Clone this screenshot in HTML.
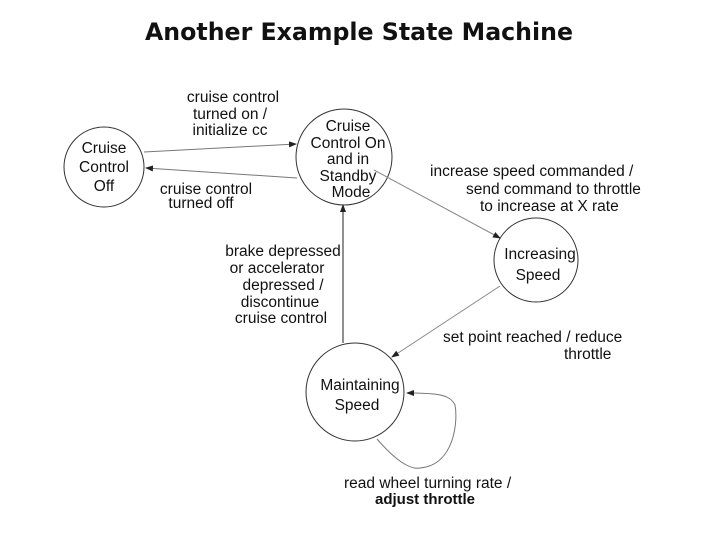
<!DOCTYPE html>
<html><head><style>
body{margin:0;background:#fff;}
svg text{font-family:"Liberation Sans",Arial,sans-serif;fill:#111;}
</style></head><body>
<svg width="720" height="540" viewBox="0 0 720 540" xmlns="http://www.w3.org/2000/svg">
<defs>
<marker id="a" markerWidth="8" markerHeight="6" refX="7" refY="3" orient="auto" markerUnits="userSpaceOnUse">
<path d="M0,0 L8,3 L0,6 z" fill="#222"/></marker>
</defs>
<text x="359" y="40" text-anchor="middle" style="font-family:'DejaVu Sans',sans-serif;font-weight:bold;font-size:24px" textLength="428" lengthAdjust="spacingAndGlyphs">Another Example State Machine</text>
<g fill="none" stroke="#333" stroke-width="1">
<circle cx="104" cy="167" r="40"/>
<circle cx="344" cy="157" r="48"/>
<circle cx="536" cy="260" r="42"/>
<circle cx="355" cy="392" r="49"/>
<path d="M144 152 L296 144" stroke="#777" marker-end="url(#a)"/>
<path d="M297 178 L146 168" stroke="#777" marker-end="url(#a)"/>
<path d="M374 170 L500 238" stroke="#888" marker-end="url(#a)"/>
<path d="M500 286 L392 357" stroke="#888" marker-end="url(#a)"/>
<path d="M343 343 L343 205" stroke="#222" marker-end="url(#a)"/>
<path d="M377 439 C395 460 410 470 420 468 C455 465 458 420 455 405 C450 395 440 393 407 393" stroke="#777" marker-end="url(#a)"/>
</g>
<g font-size="15.5" text-anchor="middle">
<text x="104" y="153">Cruise</text><text x="104" y="172">Control</text><text x="104" y="191">Off</text>
<text x="348" y="131">Cruise</text><text x="348" y="148">Control On</text><text x="348" y="164">and in</text><text x="348" y="181">Standby</text><text x="351" y="197">Mode</text>
<text x="540" y="259">Increasing</text><text x="538" y="280">Speed</text>
<text x="360" y="390">Maintaining</text><text x="357" y="410">Speed</text>
<text x="233" y="102">cruise control</text><text x="230" y="119">turned on /</text><text x="230" y="135">initialize cc</text>
<text x="206" y="194">cruise control</text><text x="201" y="208">turned off</text>
<text x="283" y="256">brake depressed</text><text x="277" y="273">or accelerator</text><text x="283" y="290">depressed /</text><text x="280" y="307">discontinue</text><text x="281" y="323">cruise control</text>
</g>
<g font-size="15.5">
<text x="430" y="176">increase speed commanded /</text>
<text x="466" y="194">send command to throttle</text>
<text x="480" y="211">to increase at X rate</text>
<text x="443" y="342">set point reached / reduce</text>
<text x="564" y="359">throttle</text>
<text x="344" y="488">read wheel turning rate /</text>
<text x="375" y="504" font-weight="bold" font-size="15">adjust throttle</text>
</g>
</svg>
</body></html>
